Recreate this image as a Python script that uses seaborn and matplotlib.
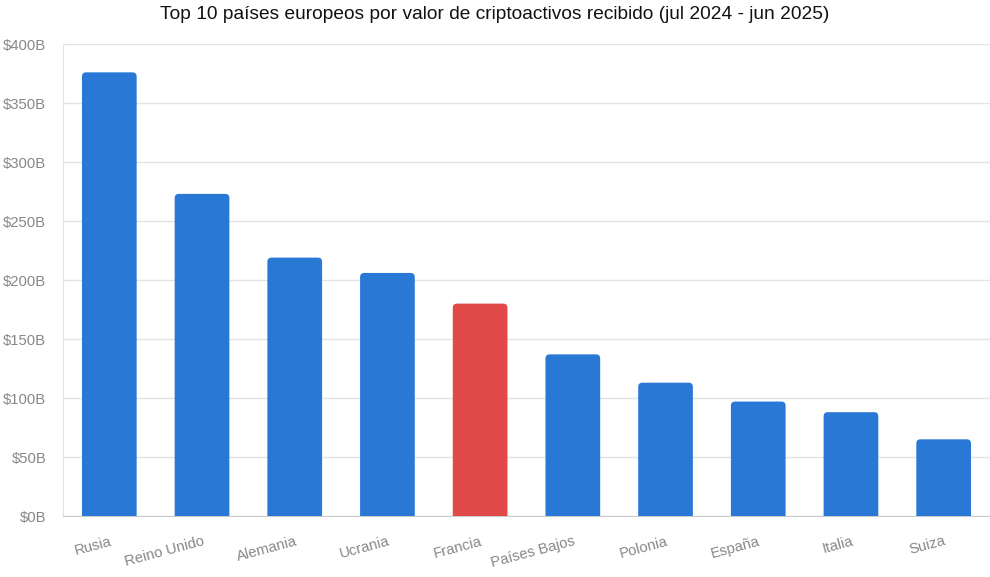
import matplotlib
matplotlib.use("Agg")
import matplotlib.pyplot as plt
from matplotlib.patches import FancyBboxPatch
import seaborn as sns
import pandas as pd

sns.set_style("white")
plt.rcParams['font.family'] = ['Liberation Sans', 'DejaVu Sans']

paises = ['Rusia', 'Reino Unido', 'Alemania', 'Ucrania', 'Francia',
          'Países Bajos', 'Polonia', 'España', 'Italia', 'Suiza']
valores = [376, 273, 219, 206, 180, 137, 113, 97, 88, 65]
destacado = 'Francia'

azul = '#2A78D6'
rojo = '#E24949'
colores = [rojo if p == destacado else azul for p in paises]

df = pd.DataFrame({'pais': paises, 'valor': valores})

fig = plt.figure(figsize=(9.9, 5.77), dpi=100)
ax = fig.add_axes([0.0636, 0.1057, 0.9364, 0.818])

sns.barplot(data=df, x='pais', y='valor', hue='pais', palette=colores,
            legend=False, width=0.59, saturation=1, ax=ax, zorder=3)

# redondear esquinas superiores
for p in list(ax.patches):
    x, w, h = p.get_x(), p.get_width(), p.get_height()
    fc = p.get_facecolor()
    p.set_visible(False)
    fb = FancyBboxPatch((x, -10), w, h + 10,
                        boxstyle="round,pad=0,rounding_size=0.045",
                        mutation_aspect=79, facecolor=fc, edgecolor='none',
                        zorder=3, clip_on=True)
    ax.add_patch(fb)

ax.set_ylim(0, 400)
ax.set_xlim(-0.5, len(paises) - 0.5)
ax.set_yticks(range(0, 401, 50))
ax.set_yticklabels([f'${v}B' for v in range(0, 401, 50)])
ax.yaxis.grid(True, color='#e3e3e3', linewidth=1, zorder=0)
ax.set_xlabel('')
ax.set_ylabel('')

for s in ['top', 'right']:
    ax.spines[s].set_visible(False)
ax.spines['left'].set_color('#e3e3e3')
ax.spines['bottom'].set_color('#cccccc')

ax.tick_params(axis='y', length=10, color='#e3e3e3', labelsize=10.7,
               labelcolor='#888888', pad=2)
ax.tick_params(axis='x', length=0, labelsize=10.7, labelcolor='#888888', pad=13)
plt.setp(ax.get_xticklabels(), rotation=15, ha='right', rotation_mode='anchor')

fig.suptitle('Top 10 países europeos por valor de criptoactivos recibido (jul 2024 - jun 2025)',
             fontsize=13.8, color='#111111', y=0.99)

fig.savefig('out.png', dpi=100)
